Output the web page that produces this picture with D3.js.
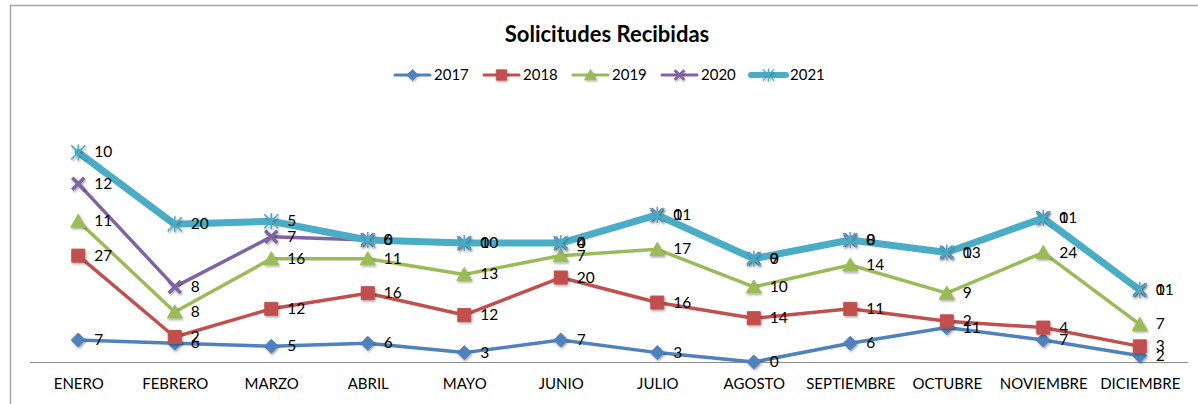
<!DOCTYPE html>
<html>
<head>
<meta charset="utf-8">
<script src="https://cdn.jsdelivr.net/npm/d3@7"></script>
<style>
  body { margin: 0; background: #fff; }
  svg text { font-family: Lato, "Open Sans", sans-serif; }
</style>
</head>
<body>
<svg id="chart"></svg>
<script>
// data (raw values, the chart stacks them)
const months = ["ENERO","FEBRERO","MARZO","ABRIL","MAYO","JUNIO","JULIO","AGOSTO","SEPTIEMBRE","OCTUBRE","NOVIEMBRE","DICIEMBRE"];
const years = ["2017","2018","2019","2020","2021"];
const v2017 = [7,6,5,6,3,7,3,0,6,11,7,2];
const v2018 = [27,2,12,16,12,20,16,14,11,2,4,3];
const v2019 = [11,8,16,11,13,7,17,10,14,9,24,7];
const v2020 = [12,8,7,6,10,4,11,9,8,13,11,11];
const v2021 = [10,20,5,0,0,0,0,0,0,0,0,0];
const yMax = 70;

const colors = ["#4F81BD","#C0504D","#9BBB59","#8064A2","#4BACC6"];
const markers = ["diamond","square","triangle","x","star"];
const lineW = [3.5,3.5,3.5,3.5,7];

const width = 1198, height = 404;
const svg = d3.select("#chart").attr("width", width).attr("height", height);

const defs = svg.append("defs");
defs.append("filter").attr("id", "shadow")
  .attr("x", "-50%").attr("y", "-50%").attr("width", "200%").attr("height", "200%")
  .append("feDropShadow")
  .attr("dx", 1).attr("dy", 1.5).attr("stdDeviation", 1)
  .attr("flood-color", "#000").attr("flood-opacity", 0.35);

// chart frame (only top and left edges are inside the picture)
svg.append("rect")
  .attr("x", 10.5).attr("y", 5.5)
  .attr("width", 1300).attr("height", 500)
  .attr("fill", "none").attr("stroke", "#a6a6a6").attr("stroke-width", 1.5);

const x = d3.scalePoint().domain(months).range([30, 1188]).padding(0.5);
const y = d3.scaleLinear().domain([0, yMax]).range([362, 143]);

// stack the series
const raw = [v2017, v2018, v2019, v2020, v2021];
const stacked = [];
raw.forEach((vals, i) => {
  stacked.push(vals.map((v, j) => ({
    month: months[j],
    value: v,
    cum: (i > 0 ? stacked[i-1][j].cum : 0) + v
  })));
});

// x axis
const xAxis = svg.append("g")
  .attr("transform", "translate(0,362)")
  .call(d3.axisBottom(x).tickSize(0).tickPadding(16));
xAxis.select(".domain").attr("stroke", "#8c8c8c").attr("stroke-width", 1)
  .attr("d", "M30,0.5H1188");
xAxis.selectAll("text")
  .attr("font-size", 15).attr("fill", "#000")
  .style("font-family", "Lato, 'Open Sans', sans-serif");

function markerPath(type) {
  switch (type) {
    case "diamond": return "M0,-7L7,0L0,7L-7,0Z";
    case "square": return "M-6.5,-6.5H6.5V6.5H-6.5Z";
    case "triangle": return "M0,-7L7.5,6L-7.5,6Z";
    case "x": return "M-6,-6L6,6M6,-6L-6,6";
    case "star": return "M0,-8V8M-7,-7L7,7M7,-7L-7,7";
  }
}

function drawMarker(sel, i) {
  const t = markers[i];
  const p = sel.append("path").attr("d", markerPath(t)).attr("filter", "url(#shadow)");
  if (t === "x") {
    p.attr("fill", "none").attr("stroke", colors[i]).attr("stroke-width", 3.5);
  } else if (t === "star") {
    p.attr("fill", "none").attr("stroke", colors[i]).attr("stroke-width", 1.6);
  } else {
    p.attr("fill", colors[i]).attr("stroke", colors[i]).attr("stroke-width", 1);
  }
}

const line = d3.line().x(d => x(d.month)).y(d => y(d.cum));

stacked.forEach((series, i) => {
  const g = svg.append("g").attr("class", "series-" + years[i]);
  g.append("path")
    .datum(series)
    .attr("d", line)
    .attr("fill", "none")
    .attr("stroke", colors[i])
    .attr("stroke-width", lineW[i])
    .attr("stroke-linejoin", "round")
    .attr("stroke-linecap", "round");
  g.selectAll(".pt")
    .data(series).enter()
    .append("g")
    .attr("class", "pt")
    .attr("transform", d => `translate(${x(d.month)},${y(d.cum)})`)
    .each(function() { drawMarker(d3.select(this), i); });
});

// data labels on top
stacked.forEach((series, i) => {
  svg.append("g").selectAll("text")
    .data(series).enter()
    .append("text")
    .attr("x", d => x(d.month) + 16)
    .attr("y", d => y(d.cum) + 5)
    .attr("font-size", 15.5)
    .attr("fill", "#000")
    .text(d => d.value);
});

// title
svg.append("text")
  .attr("x", 607).attr("y", 42)
  .attr("text-anchor", "middle")
  .attr("font-size", 22).attr("font-weight", "bold")
  .attr("fill", "#000")
  .text("Solicitudes Recibidas");

// legend
const legend = svg.append("g").attr("transform", "translate(395,75)");
years.forEach((yr, i) => {
  const item = legend.append("g").attr("transform", `translate(${i * 89},0)`);
  item.append("line")
    .attr("x1", 0).attr("x2", 35).attr("y1", 0).attr("y2", 0)
    .attr("stroke", colors[i]).attr("stroke-width", i === 4 ? 6 : 3)
    .attr("stroke-linecap", "round");
  const m = item.append("g").attr("transform", "translate(17.5,0) scale(0.8)");
  drawMarker(m, i);
  item.append("text")
    .attr("x", 39).attr("y", 5)
    .attr("font-size", 15).attr("fill", "#000")
    .text(yr);
});
</script>
</body>
</html>
